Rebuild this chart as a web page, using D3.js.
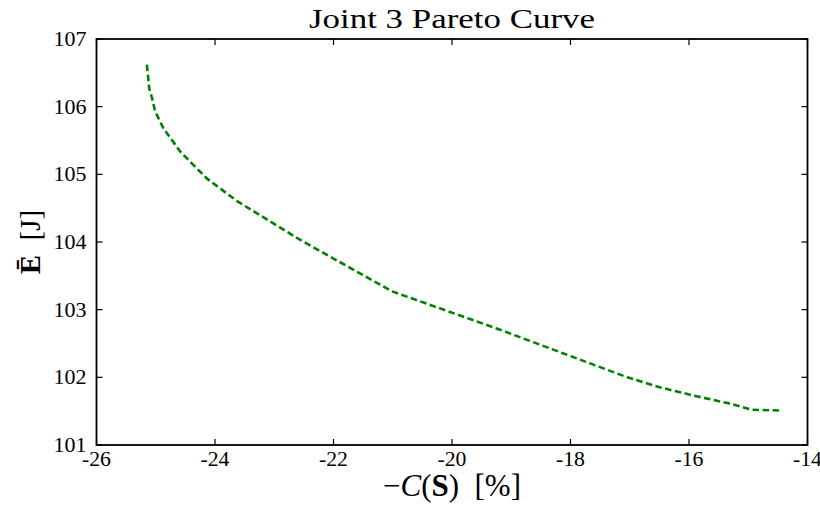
<!DOCTYPE html>
<html>
<head>
<meta charset="utf-8">
<script src="https://cdn.jsdelivr.net/npm/d3@7"></script>
<style>
  html, body { margin: 0; padding: 0; background: #fff; }
  svg { display: block; }
  text { font-family: "Liberation Serif", "DejaVu Serif", serif; fill: #000; }
</style>
</head>
<body>
<svg id="chart" width="820" height="508"></svg>
<script>
// Pareto front for joint 3: cost metric vs. mean energy
const costPct = [-25.15, -25.13, -25.11, -25.06, -25.01, -24.87, -24.59, -24.40, -24.14, -23.88, -23.62,
                 -22.56, -21.01, -19.21, -18.14, -17.04, -16.48, -15.92, -15.35, -14.93, -14.48];
const energyJ = [106.62, 106.45, 106.27, 106.12, 105.93, 105.68, 105.34, 105.17, 104.94, 104.77, 104.60,
                 104.03, 103.27, 102.71, 102.36, 102.00, 101.85, 101.73, 101.62, 101.52, 101.51];
const xTicks = [-26, -24, -22, -20, -18, -16, -14];
const yTicks = [101, 102, 103, 104, 105, 106, 107];

const svg = d3.select("#chart");
const plotL = 96.5, plotR = 807.5, plotT = 39, plotB = 445;

const x = d3.scaleLinear().domain([-26, -14]).range([plotL, plotR]);
const y = d3.scaleLinear().domain([101, 107]).range([plotB, plotT]);

// curve
const line = d3.line().x((d, i) => x(costPct[i])).y((d, i) => y(energyJ[i]));
svg.append("path")
  .datum(costPct)
  .attr("d", line)
  .attr("fill", "none")
  .attr("stroke", "#008000")
  .attr("stroke-width", 2.6)
  .attr("stroke-dasharray", "6.5,3.5");

// inward ticks on all four sides
const tickLen = 6;
const g = svg.append("g").attr("stroke", "#000").attr("stroke-width", 1.2);
xTicks.forEach(t => {
  g.append("line").attr("x1", x(t)).attr("x2", x(t)).attr("y1", plotB).attr("y2", plotB - tickLen);
  g.append("line").attr("x1", x(t)).attr("x2", x(t)).attr("y1", plotT).attr("y2", plotT + tickLen);
});
yTicks.forEach(t => {
  g.append("line").attr("y1", y(t)).attr("y2", y(t)).attr("x1", plotL).attr("x2", plotL + tickLen);
  g.append("line").attr("y1", y(t)).attr("y2", y(t)).attr("x1", plotR).attr("x2", plotR - tickLen);
});

// frame
svg.append("rect")
  .attr("x", plotL).attr("y", plotT)
  .attr("width", plotR - plotL).attr("height", plotB - plotT)
  .attr("fill", "none").attr("stroke", "#000").attr("stroke-width", 1.8);

// tick labels
svg.append("g").selectAll("text").data(xTicks).join("text")
  .attr("x", d => x(d)).attr("y", plotB + 21)
  .attr("text-anchor", "middle").attr("font-size", 20)
  .attr("textLength", 29).attr("lengthAdjust", "spacingAndGlyphs")
  .text(d => String(d));
svg.append("g").selectAll("text").data(yTicks).join("text")
  .attr("x", plotL - 10).attr("y", d => y(d) + 7)
  .attr("text-anchor", "end").attr("font-size", 20)
  .attr("textLength", 33).attr("lengthAdjust", "spacingAndGlyphs")
  .text(d => String(d));

// title
svg.append("text")
  .attr("x", (plotL + plotR) / 2).attr("y", 28)
  .attr("text-anchor", "middle").attr("font-size", 27)
  .attr("textLength", 286).attr("lengthAdjust", "spacingAndGlyphs")
  .text("Joint 3 Pareto Curve");

// x-axis label: −C(S) [%]
const xl = svg.append("text")
  .attr("x", (plotL + plotR) / 2).attr("y", 496)
  .attr("text-anchor", "middle").attr("font-size", 31);
xl.append("tspan").text("\u2212");
xl.append("tspan").attr("font-style", "italic").text("C");
xl.append("tspan").text("(");
xl.append("tspan").attr("font-weight", "bold").text("S");
xl.append("tspan").text(")\u2002[%]");

// y-axis label: Ē [J]
const yl = svg.append("text")
  .attr("transform", `translate(40,${(plotT + plotB) / 2}) rotate(-90)`)
  .attr("text-anchor", "middle").attr("font-size", 29);
yl.append("tspan").attr("font-weight", "bold").text("\u0112");
yl.append("tspan").text("\u2002[J]");
</script>
</body>
</html>
